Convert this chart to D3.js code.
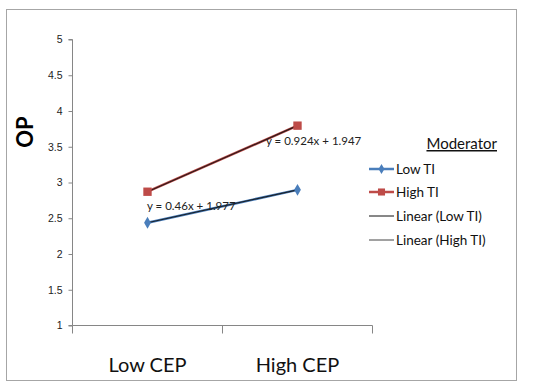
<!DOCTYPE html>
<html><head><meta charset="utf-8">
<script src="https://cdn.jsdelivr.net/npm/d3@7"></script>
<style>body{margin:0;background:#fff;} svg{display:block;font-family:Lato,"Open Sans",sans-serif;}</style>
</head><body>
<script>
const categories = ["Low CEP", "High CEP"];
const lowTI = [2.437, 2.897];
const highTI = [2.871, 3.795];
const yTicks = [1, 1.5, 2, 2.5, 3, 3.5, 4, 4.5, 5];
const trendLabels = ["y = 0.46x + 1.977", "y = 0.924x + 1.947"];
const legendLabels = ["Low TI", "High TI", "Linear (Low TI)", "Linear (High TI)"];

const W = 550, H = 391;
const svg = d3.select("body").append("svg").attr("width", W).attr("height", H);
svg.append("rect").attr("x", 6.5).attr("y", 9.5).attr("width", 510).attr("height", 371)
  .attr("fill", "#fff").attr("stroke", "#a6a6a6").attr("stroke-width", 1);

const x = d3.scaleBand().domain(categories).range([72.5, 372.5]);
const y = d3.scaleLinear().domain([1, 5]).range([325.5, 39.5]);
const cx = d => x(d) + x.bandwidth() / 2;

// y axis
const ya = svg.append("g").attr("transform", "translate(72.5,0)")
  .call(d3.axisLeft(y).tickValues(yTicks).tickSize(4).tickPadding(6).tickFormat(d3.format("")));
ya.select(".domain").attr("stroke", "#868686").attr("d", "M-4,39.5H0V325.5H-4");
ya.selectAll(".tick line").attr("stroke", "#868686");
ya.selectAll(".tick text").attr("font-size", 10.5).attr("fill", "#222");

// x axis
const xa = svg.append("g").attr("transform", "translate(0,325.5)");
xa.append("line").attr("x1", 72.5).attr("x2", 372.5).attr("y1", 0).attr("y2", 0).attr("stroke", "#868686");
const bounds = [72.5, 72.5 + x.bandwidth(), 372.5];
xa.selectAll("line.tk").data(bounds).enter().append("line").attr("class", "tk")
  .attr("x1", d => d).attr("x2", d => d).attr("y1", 0).attr("y2", 8).attr("stroke", "#868686");
xa.selectAll("text").data(categories).enter().append("text")
  .attr("x", d => cx(d)).attr("y", 46).attr("text-anchor", "middle")
  .attr("font-size", 20).attr("fill", "#111").text(d => d);

// y label
svg.append("text").attr("transform", "translate(33,132) rotate(-90)").attr("text-anchor", "middle")
  .attr("font-size", 22).attr("font-weight", "bold").attr("fill", "#000").text("OP");

const line = d3.line().x((d, i) => cx(categories[i])).y(d => y(d));
const series = [
  {vals: lowTI, color: "#4a7ebb", marker: "diamond"},
  {vals: highTI, color: "#be4b48", marker: "square"}
];
series.forEach(s => {
  svg.append("path").attr("d", line(s.vals)).attr("fill", "none").attr("stroke", s.color).attr("stroke-width", 2.5);
});
series.forEach(s => {
  svg.append("path").attr("d", line(s.vals)).attr("fill", "none").attr("stroke", "#111").attr("stroke-width", 1.2).attr("opacity", 0.85);
});
series.forEach(s => {
  const sym = s.marker === "diamond" ? d3.symbol(d3.symbolDiamond, 40) : d3.symbol(d3.symbolSquare, 70);
  svg.selectAll(null).data(s.vals).enter().append("path")
    .attr("transform", (d, i) => `translate(${cx(categories[i])},${y(d)})`)
    .attr("d", sym).attr("fill", s.color);
});

// trend labels
svg.append("text").attr("x", 147).attr("y", 210).attr("font-size", 11.5).attr("fill", "#222").text(trendLabels[0]);
svg.append("text").attr("x", 266).attr("y", 145).attr("font-size", 11.5).attr("fill", "#222").text(trendLabels[1]);

// legend
const lg = svg.append("g");
lg.append("text").attr("x", 497).attr("y", 149).attr("text-anchor", "end").attr("font-size", 15)
  .attr("fill", "#111").attr("text-decoration", "underline").text("Moderator");
const ly = [169, 192, 216, 240];
legendLabels.forEach((t, i) => {
  const g = lg.append("g").attr("transform", `translate(0,${ly[i]})`);
  if (i < 2) {
    g.append("line").attr("x1", 369).attr("x2", 394).attr("stroke", series[i].color).attr("stroke-width", 2.5);
    const sym = i === 0 ? d3.symbol(d3.symbolDiamond, 30) : d3.symbol(d3.symbolSquare, 50);
    g.append("path").attr("transform", "translate(381.5,0)").attr("d", sym).attr("fill", series[i].color);
  } else {
    g.append("line").attr("x1", 369).attr("x2", 394).attr("stroke", i === 2 ? "#111" : "#444").attr("stroke-width", 1);
  }
  g.append("text").attr("x", 396).attr("y", 5).attr("font-size", 13.5).attr("fill", "#111").text(t);
});
</script>
</body></html>
